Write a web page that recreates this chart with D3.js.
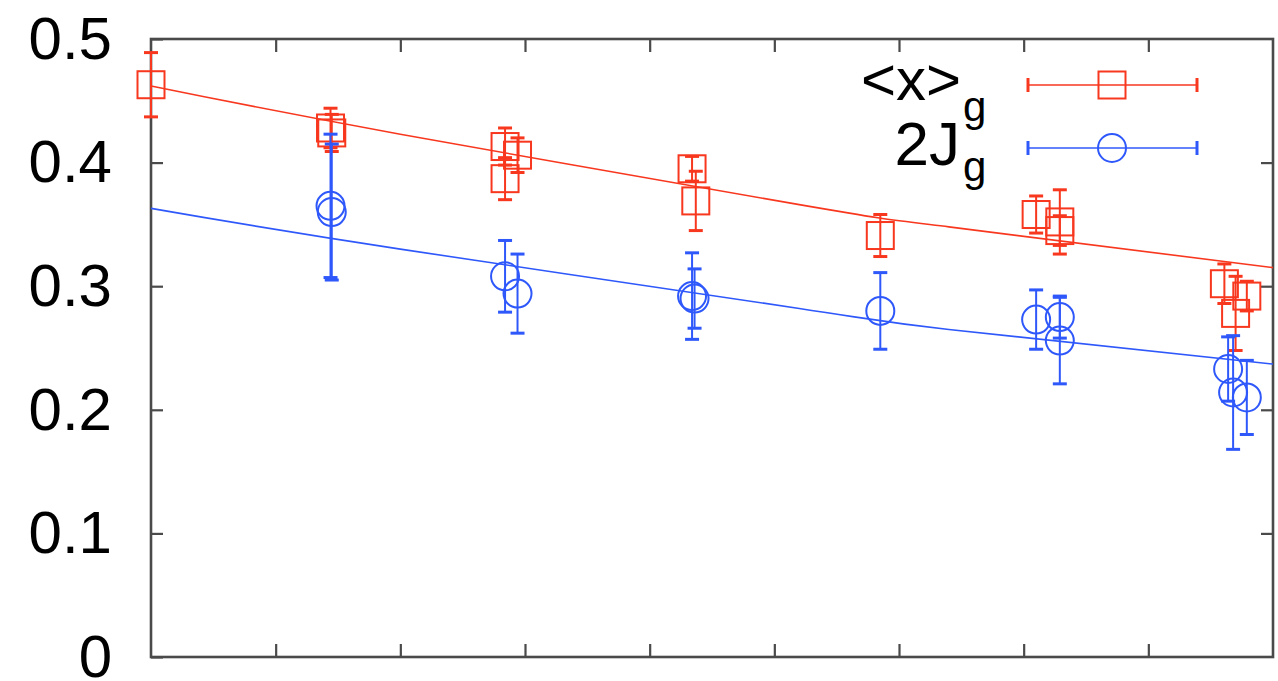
<!DOCTYPE html>
<html lang="en">
<head>
<meta charset="UTF-8">
<script src="https://d3js.org/d3.v7.min.js"></script>
<title>xg and 2Jg</title>
<style>
    body { margin: 0; background: #fff; }
    svg { display: block; font-family: "Liberation Sans", Arial, sans-serif; }
</style>
</head>
<body>
<svg id="chart" width="1278" height="681"></svg>
<script>
    // data: [x, value, error]
    var xgPoints = [
        [0.00, 0.463, 0.026],
        [1.44, 0.428, 0.016],
        [1.45, 0.424, 0.015],
        [2.84, 0.413, 0.015],
        [2.94, 0.406, 0.014],
        [2.84, 0.387, 0.017],
        [4.34, 0.395, 0.010],
        [4.37, 0.369, 0.024],
        [5.85, 0.341, 0.017],
        [7.10, 0.358, 0.015],
        [7.29, 0.352, 0.026],
        [7.29, 0.345, 0.012],
        [8.61, 0.302, 0.016],
        [8.79, 0.292, 0.012],
        [8.70, 0.278, 0.030]
    ];
    var jgPoints = [
        [1.44, 0.365, 0.058],
        [1.45, 0.360, 0.055],
        [2.84, 0.308, 0.029],
        [2.94, 0.294, 0.032],
        [4.34, 0.292, 0.035],
        [4.36, 0.290, 0.024],
        [5.85, 0.280, 0.031],
        [7.10, 0.273, 0.024],
        [7.29, 0.275, 0.017],
        [7.29, 0.256, 0.035],
        [8.64, 0.233, 0.026],
        [8.68, 0.214, 0.046],
        [8.79, 0.210, 0.030]
    ];
    // fit curves
    var xgFit = [[0, 0.462], [2, 0.423], [5.2, 0.366], [6.4, 0.348], [9, 0.315]];
    var jgFit = [[0, 0.363], [2, 0.330], [5.2, 0.282], [6.4, 0.265], [9, 0.237]];

    var yTicks = [0, 0.1, 0.2, 0.3, 0.4, 0.5];
    var xTicks = [1, 2, 3, 4, 5, 6, 7, 8];

    var red = "#f8371f", blue = "#2f58fb", frameCol = "#4a4a4a";

    var svg = d3.select("#chart");
    var plotLeft = 151, plotRight = 1273, plotTop = 39, plotBottom = 657;

    var x = d3.scaleLinear().domain([0, 9]).range([plotLeft, plotRight]);
    var y = d3.scaleLinear().domain([0, 0.5]).range([plotBottom, plotTop]);

    // axes, ticks point inwards like gnuplot
    svg.append("g")
        .attr("transform", `translate(${plotLeft},0)`)
        .call(d3.axisLeft(y).tickValues(yTicks).tickSizeInner(-12).tickSizeOuter(0).tickPadding(39)
            .tickFormat(d => d === 0 ? "0" : d3.format(".1f")(d)))
        .call(g => g.selectAll("text").attr("font-size", 60).attr("fill", "#000").attr("font-family", "Liberation Sans, Arial, sans-serif"));
    svg.append("g")
        .attr("transform", `translate(${plotRight},0)`)
        .call(d3.axisRight(y).tickValues([0.1, 0.2, 0.3, 0.4]).tickSizeInner(-12).tickSizeOuter(0).tickFormat(""));
    svg.append("g")
        .attr("transform", `translate(0,${plotBottom})`)
        .call(d3.axisBottom(x).tickValues(xTicks).tickSizeInner(-13).tickSizeOuter(0).tickFormat(""));
    svg.append("g")
        .attr("transform", `translate(0,${plotTop})`)
        .call(d3.axisTop(x).tickValues(xTicks).tickSizeInner(-13).tickSizeOuter(0).tickFormat(""));

    svg.selectAll(".domain").remove();
    svg.selectAll(".tick line").attr("stroke", frameCol).attr("stroke-width", 2.2);

    svg.append("rect")
        .attr("x", plotLeft).attr("y", plotTop)
        .attr("width", plotRight - plotLeft).attr("height", plotBottom - plotTop)
        .attr("fill", "none").attr("stroke", frameCol).attr("stroke-width", 2.6);

    var line = d3.line().x(d => x(d[0])).y(d => y(d[1])).curve(d3.curveNatural);

    function drawSeries(points, fit, col, shape) {
        var g = svg.append("g");
        g.append("path").datum(fit)
            .attr("d", line).attr("fill", "none").attr("stroke", col).attr("stroke-width", 1.6);

        var bars = g.selectAll(".err").data(points).join("g");
        bars.append("line")
            .attr("x1", d => x(d[0])).attr("x2", d => x(d[0]))
            .attr("y1", d => y(d[1] - d[2])).attr("y2", d => y(d[1] + d[2]))
            .attr("stroke", col).attr("stroke-width", 2);
        [-1, 1].forEach(s => {
            bars.append("line")
                .attr("x1", d => x(d[0]) - 7).attr("x2", d => x(d[0]) + 7)
                .attr("y1", d => y(d[1] + s * d[2])).attr("y2", d => y(d[1] + s * d[2]))
                .attr("stroke", col).attr("stroke-width", 3);
        });

        if (shape === "square") {
            g.selectAll(".pt").data(points).join("rect")
                .attr("x", d => x(d[0]) - 13.5).attr("y", d => y(d[1]) - 13.5)
                .attr("width", 27).attr("height", 27)
                .attr("fill", "none").attr("stroke", col).attr("stroke-width", 2);
        } else {
            g.selectAll(".pt").data(points).join("circle")
                .attr("cx", d => x(d[0])).attr("cy", d => y(d[1])).attr("r", 14)
                .attr("fill", "none").attr("stroke", col).attr("stroke-width", 2);
        }
    }

    drawSeries(xgPoints, xgFit, red, "square");
    drawSeries(jgPoints, jgFit, blue, "circle");

    // legend
    var legend = svg.append("g");
    var legendRows = [
        { y: 85, col: red, shape: "square" },
        { y: 148, col: blue, shape: "circle" }
    ];
    legendRows.forEach(r => {
        legend.append("line").attr("x1", 1028).attr("x2", 1197).attr("y1", r.y).attr("y2", r.y)
            .attr("stroke", r.col).attr("stroke-width", 1.6);
        [1028, 1197].forEach(px => legend.append("line")
            .attr("x1", px).attr("x2", px).attr("y1", r.y - 7).attr("y2", r.y + 7)
            .attr("stroke", r.col).attr("stroke-width", 3));
        if (r.shape === "square") {
            legend.append("rect").attr("x", 1112 - 13.5).attr("y", r.y - 13.5)
                .attr("width", 27).attr("height", 27)
                .attr("fill", "none").attr("stroke", r.col).attr("stroke-width", 2);
        } else {
            legend.append("circle").attr("cx", 1112).attr("cy", r.y).attr("r", 14)
                .attr("fill", "none").attr("stroke", r.col).attr("stroke-width", 2);
        }
    });

    // labels: the g between the rows is shared, as in the original
    legend.append("text").attr("x", 961).attr("y", 100).attr("text-anchor", "end")
        .attr("font-size", 60).text("<x>");
    legend.append("text").attr("x", 960).attr("y", 165).attr("text-anchor", "end")
        .attr("font-size", 62).text("2J");
    legend.append("text").attr("x", 963).attr("y", 121)
        .attr("font-size", 42).text("g");
    legend.append("text").attr("x", 963).attr("y", 181)
        .attr("font-size", 42).text("g");
</script>
</body>
</html>
